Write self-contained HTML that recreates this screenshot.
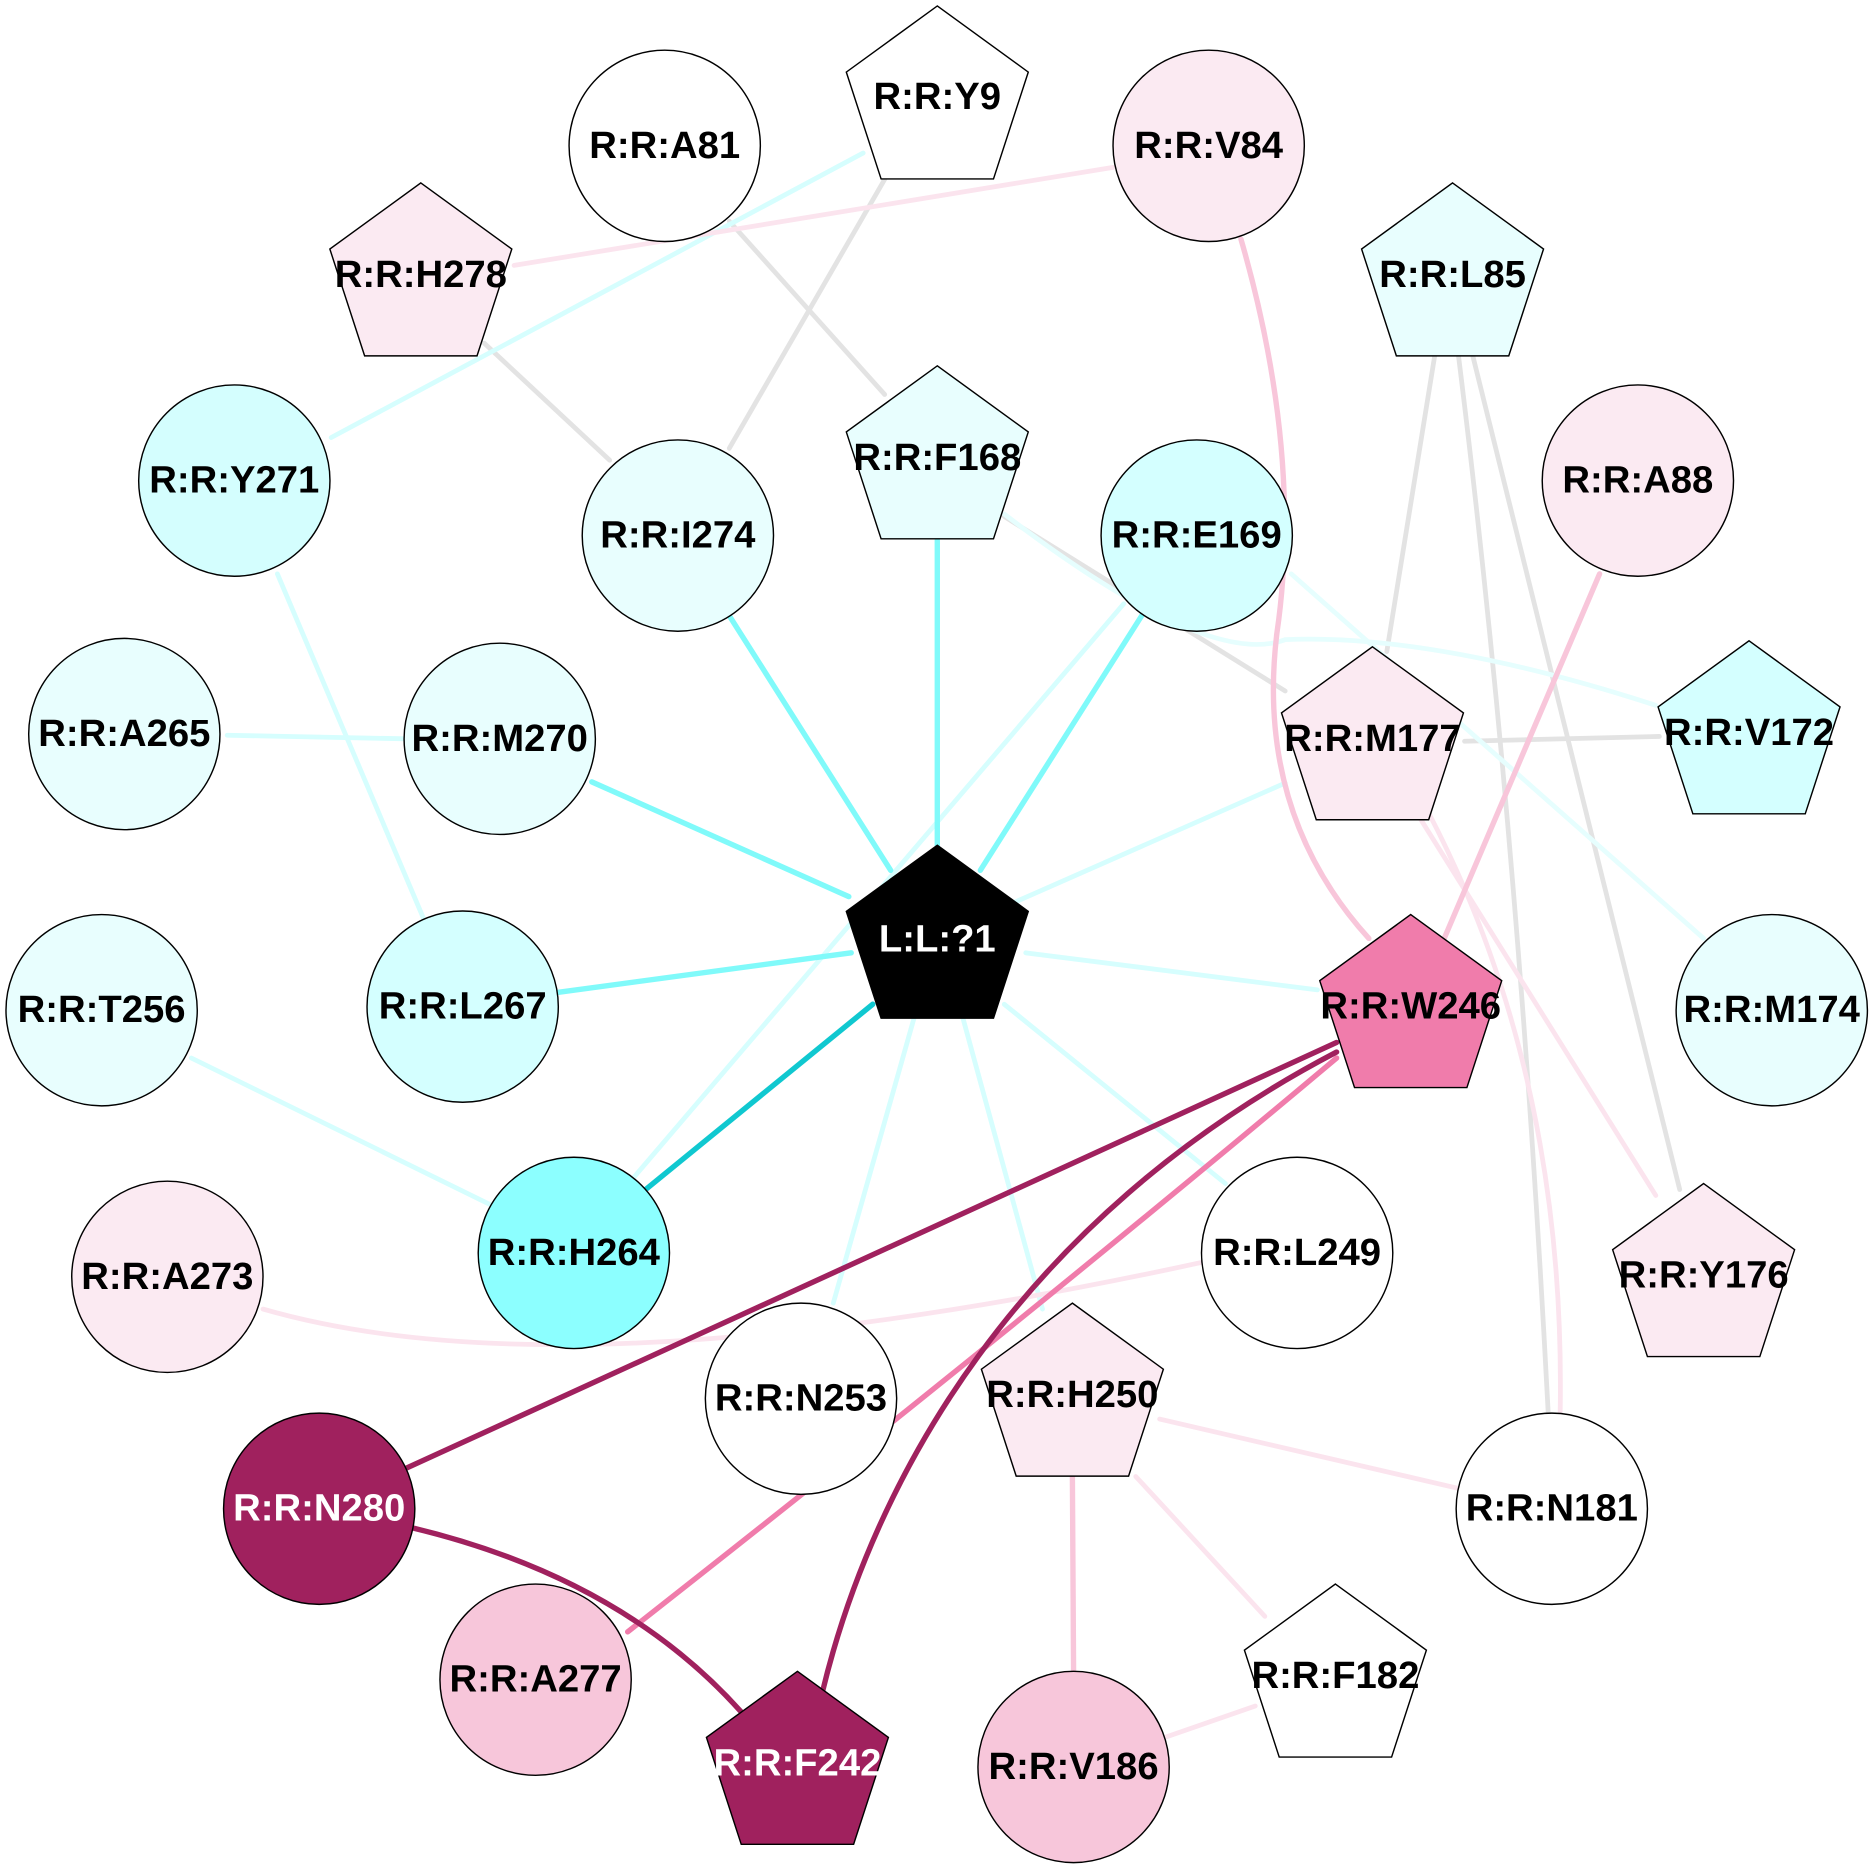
<!DOCTYPE html>
<html><head><meta charset="utf-8"><style>html,body{margin:0;padding:0;background:#fff}svg{display:block}text{font-family:"Liberation Sans",Arial,sans-serif;font-weight:bold;font-size:32px;text-anchor:middle}</style></head><body>
<svg width="1871" height="1865" viewBox="0 0 1565 1560" preserveAspectRatio="none" xmlns="http://www.w3.org/2000/svg">
<defs><polygon id="p" points="0,-80 76.1,-24.7 47,64.7 -47,64.7 -76.1,-24.7"/></defs>
<g fill="none" stroke-linecap="round">
<g stroke="#e3e3e3" stroke-width="4">
<line x1="610" y1="185" x2="740" y2="330"/>
<line x1="740" y1="150" x2="610" y2="375"/>
<line x1="405" y1="287" x2="510" y2="385"/>
<line x1="840" y1="432" x2="1075" y2="578"/>
<line x1="1200" y1="298" x2="1160" y2="545"/>
<path d="M1220,298 Q1270,700 1295,1182"/>
<line x1="1232" y1="298" x2="1405" y2="995"/>
<line x1="1225" y1="620" x2="1388" y2="616"/>
</g>
<g stroke="#d6fefe" stroke-width="4">
<line x1="722" y1="128" x2="277" y2="366"/>
<line x1="232" y1="480" x2="355" y2="770"/>
<line x1="190" y1="615" x2="340" y2="618"/>
<line x1="160" y1="885" x2="415" y2="1010"/>
<line x1="940" y1="505" x2="530" y2="985"/>
<line x1="848" y1="755" x2="1075" y2="655"/>
<line x1="858" y1="797" x2="1102" y2="828"/>
<line x1="840" y1="840" x2="1025" y2="990"/>
<line x1="805" y1="850" x2="872" y2="1095"/>
<line x1="765" y1="850" x2="697" y2="1090"/>
<path d="M840,430 Q1010,560 1075,535 Q1200,530 1385,590" stroke="#e6fefe"/>
<line x1="1080" y1="480" x2="1425" y2="785" stroke="#e6fefe"/>
</g>
<g stroke="#80fafa" stroke-width="4.5">
<line x1="784" y1="452" x2="784" y2="707"/>
<line x1="610" y1="515" x2="745" y2="728"/>
<line x1="955" y1="515" x2="820" y2="728"/>
<line x1="495" y1="654" x2="710" y2="750"/>
<line x1="467" y1="830" x2="712" y2="797"/>
</g>
<line x1="540" y1="995" x2="730" y2="840" stroke="#10c8d0" stroke-width="4.5"/>
<g stroke="#fbe4ee" stroke-width="4">
<line x1="430" y1="222" x2="931" y2="140"/>
<line x1="1185" y1="680" x2="1385" y2="1000"/>
<path d="M1195,680 Q1310,900 1305,1182"/>
<path d="M220,1095 Q480,1170 1005,1056"/>
<line x1="970" y1="1187" x2="1220" y2="1245"/>
<line x1="950" y1="1235" x2="1058" y2="1352"/>
<line x1="975" y1="1453" x2="1050" y2="1427"/>
</g>
<g stroke="#f8c6da" stroke-width="4.5">
<path d="M1038,200 Q1090,380 1068,530 Q1050,680 1145,785"/>
<line x1="1338" y1="480" x2="1208" y2="785"/>
<line x1="897" y1="1235" x2="898" y2="1398"/>
</g>
<path d="M1118,885 Q850,1110 525,1365" stroke="#f07cab" stroke-width="4.5"/>
<g stroke="#a0215e" stroke-width="4.5">
<line x1="1118" y1="872" x2="340" y2="1228"/>
<path d="M1118,880 C850,1020 730,1240 688,1415"/>
<path d="M345,1278 Q520,1320 620,1432"/>
</g>
</g>
<g stroke="#000" stroke-width="1.2">
<circle cx="556" cy="122" r="80" fill="#fff"/>
<circle cx="1011" cy="122" r="80" fill="#fbeaf2"/>
<circle cx="196" cy="402" r="80" fill="#d4fefe"/>
<circle cx="567" cy="448" r="80" fill="#e8fefe"/>
<circle cx="1001" cy="448" r="80" fill="#d4ffff"/>
<circle cx="1370" cy="402" r="80" fill="#fbeaf2"/>
<circle cx="104" cy="614" r="80" fill="#e8fefe"/>
<circle cx="418" cy="618" r="80" fill="#e8fefe"/>
<circle cx="85" cy="845" r="80" fill="#e8fefe"/>
<circle cx="387" cy="842" r="80" fill="#d4ffff"/>
<circle cx="1482" cy="845" r="80" fill="#e8fefe"/>
<circle cx="480" cy="1048" r="80" fill="#8cffff"/>
<circle cx="140" cy="1068" r="80" fill="#fbeaf2"/>
<circle cx="1085" cy="1048" r="80" fill="#fff"/>
<circle cx="670" cy="1170" r="80" fill="#fff"/>
<circle cx="267" cy="1262" r="80" fill="#a0215e"/>
<circle cx="1298" cy="1262" r="80" fill="#fff"/>
<circle cx="448" cy="1405" r="80" fill="#f7c6da"/>
<circle cx="898" cy="1478" r="80" fill="#f7c6da"/>
<use href="#p" x="784" y="85" fill="#fff"/>
<use href="#p" x="352" y="233" fill="#fbeaf2"/>
<use href="#p" x="1215" y="233" fill="#e8fefe"/>
<use href="#p" x="784" y="386" fill="#e8fefe"/>
<use href="#p" x="1148" y="621" fill="#fbeaf2"/>
<use href="#p" x="1463" y="616" fill="#d4ffff"/>
<use href="#p" x="784" y="787" fill="#000"/>
<use href="#p" x="1180" y="845" fill="#f07cab"/>
<use href="#p" x="1425" y="1070" fill="#fbeaf2"/>
<use href="#p" x="897" y="1170" fill="#fbeaf2"/>
<use href="#p" x="667" y="1478" fill="#a0215e"/>
<use href="#p" x="1117" y="1405" fill="#fff"/>
</g>
<g fill="#000">
<text x="556" y="132">R:R:A81</text>
<text x="1011" y="132">R:R:V84</text>
<text x="196" y="412">R:R:Y271</text>
<text x="567" y="458">R:R:I274</text>
<text x="1001" y="458">R:R:E169</text>
<text x="1370" y="412">R:R:A88</text>
<text x="104" y="624">R:R:A265</text>
<text x="418" y="628">R:R:M270</text>
<text x="85" y="855">R:R:T256</text>
<text x="387" y="852">R:R:L267</text>
<text x="1482" y="855">R:R:M174</text>
<text x="480" y="1058">R:R:H264</text>
<text x="140" y="1078">R:R:A273</text>
<text x="1085" y="1058">R:R:L249</text>
<text x="670" y="1180">R:R:N253</text>
<text x="1298" y="1272">R:R:N181</text>
<text x="448" y="1415">R:R:A277</text>
<text x="898" y="1488">R:R:V186</text>
<text x="784" y="91">R:R:Y9</text>
<text x="352" y="240">R:R:H278</text>
<text x="1215" y="240">R:R:L85</text>
<text x="784" y="393">R:R:F168</text>
<text x="1148" y="628">R:R:M177</text>
<text x="1463" y="623">R:R:V172</text>
<text x="1180" y="852">R:R:W246</text>
<text x="1425" y="1077">R:R:Y176</text>
<text x="897" y="1177">R:R:H250</text>
<text x="1117" y="1412">R:R:F182</text>
</g>
<g fill="#fff">
<text x="784" y="796">L:L:?1</text>
<text x="267" y="1272">R:R:N280</text>
<text x="667" y="1485">R:R:F242</text>
</g>
</svg>
</body></html>
